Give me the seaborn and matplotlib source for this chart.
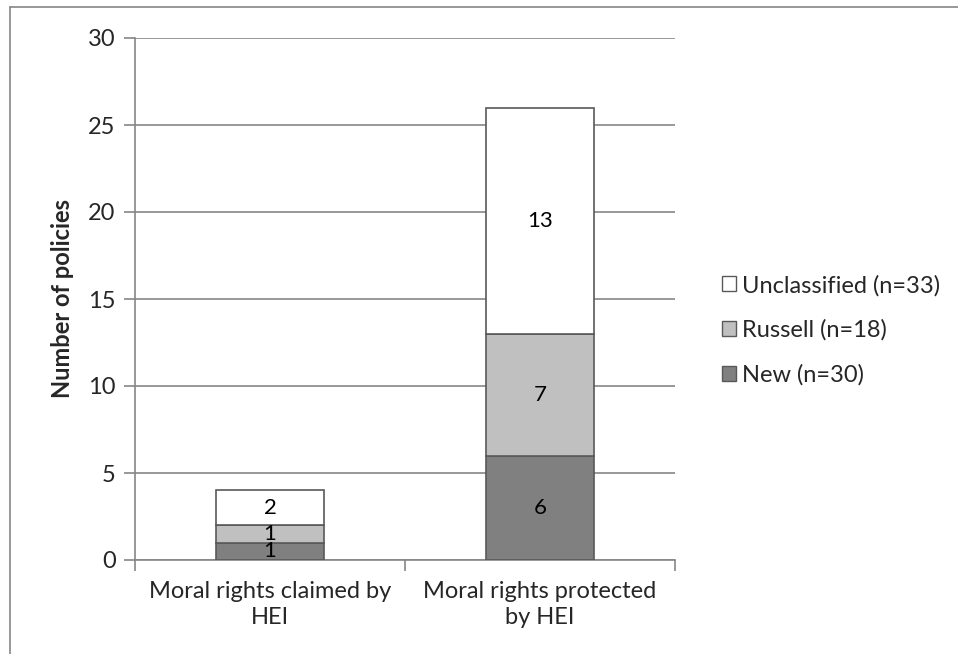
import matplotlib
matplotlib.use("Agg")
import matplotlib.pyplot as plt
import seaborn as sns
import pandas as pd
from matplotlib.patches import Patch
from matplotlib.lines import Line2D

categories = ["Moral rights claimed by\nHEI", "Moral rights protected\nby HEI"]
new_vals = [1, 6]
russell_vals = [1, 7]
unclassified_vals = [2, 13]
series_names = ["New (n=30)", "Russell (n=18)", "Unclassified (n=33)"]
y_ticks = [0, 5, 10, 15, 20, 25, 30]

colors = ["#808080", "#c0c0c0", "#ffffff"]
edge = "#595959"
fs = 17

sns.set_style("white")
plt.rcParams['font.family'] = ['Lato', 'DejaVu Sans']

fig = plt.figure(figsize=(9.58, 6.54), dpi=100)
ax = fig.add_axes([135/958, 1-560/654, (675-135)/958, (560-38)/654])

df = pd.DataFrame({"cat": categories, "new": new_vals, "russell": russell_vals,
                   "unc": unclassified_vals})
bottom = [0]*len(categories)
containers = []
for col, c in zip(["new", "russell", "unc"], colors):
    sns.barplot(data=df, x="cat", y=col, color=c, bottom=bottom, width=0.4,
                edgecolor=edge, linewidth=1.2, saturation=1, ax=ax, zorder=3)
    containers.append(ax.containers[-1])
    bottom = [b + v for b, v in zip(bottom, df[col])]

for cont, vals in zip(containers, [new_vals, russell_vals, unclassified_vals]):
    ax.bar_label(cont, labels=[str(v) for v in vals], label_type="center",
                 fontsize=16, color="black", zorder=4)

ax.set_ylim(0, 30)
ax.set_yticks(y_ticks)
ax.set_xlim(-0.5, 1.5)
ax.yaxis.grid(True, color="#868686", linewidth=1.2, zorder=0)
ax.set_axisbelow(True)
for s in ["top", "right"]:
    ax.spines[s].set_visible(False)
ax.spines["left"].set_color("#868686")
ax.spines["bottom"].set_color("#868686")
ax.spines["left"].set_linewidth(1.2)
ax.spines["bottom"].set_linewidth(1.2)
ax.tick_params(axis="y", length=8, width=1.2, color="#868686", labelsize=fs, pad=6, left=True)
ax.set_xticks([0, 1])
ax.set_xticklabels(categories, fontsize=fs, linespacing=1.3)
ax.tick_params(axis="x", length=0, pad=15)
ax.set_xticks([-0.5, 0.5, 1.5], minor=True)
ax.tick_params(axis="x", which="minor", length=8, width=1.2, color="#868686", bottom=True)
ax.set_xlabel("")
ax.set_ylabel("Number of policies", fontsize=fs, fontweight="bold", labelpad=10)

handles = [Patch(facecolor=colors[i], edgecolor=edge, label=series_names[i]) for i in [2, 1, 0]]
ax.legend(handles=handles, loc="center left", bbox_to_anchor=(701/958, 1-330/654),
          bbox_transform=fig.transFigure, frameon=False, fontsize=fs,
          handlelength=0.6, handleheight=0.6, handletextpad=0.25, labelspacing=0.98)

fig.add_artist(Line2D([10/958, 1], [1-7/654, 1-7/654], color="#868686", linewidth=1.2))
fig.add_artist(Line2D([10/958, 10/958], [0, 1-7/654], color="#868686", linewidth=1.2))

fig.savefig("out.png", dpi=100)
